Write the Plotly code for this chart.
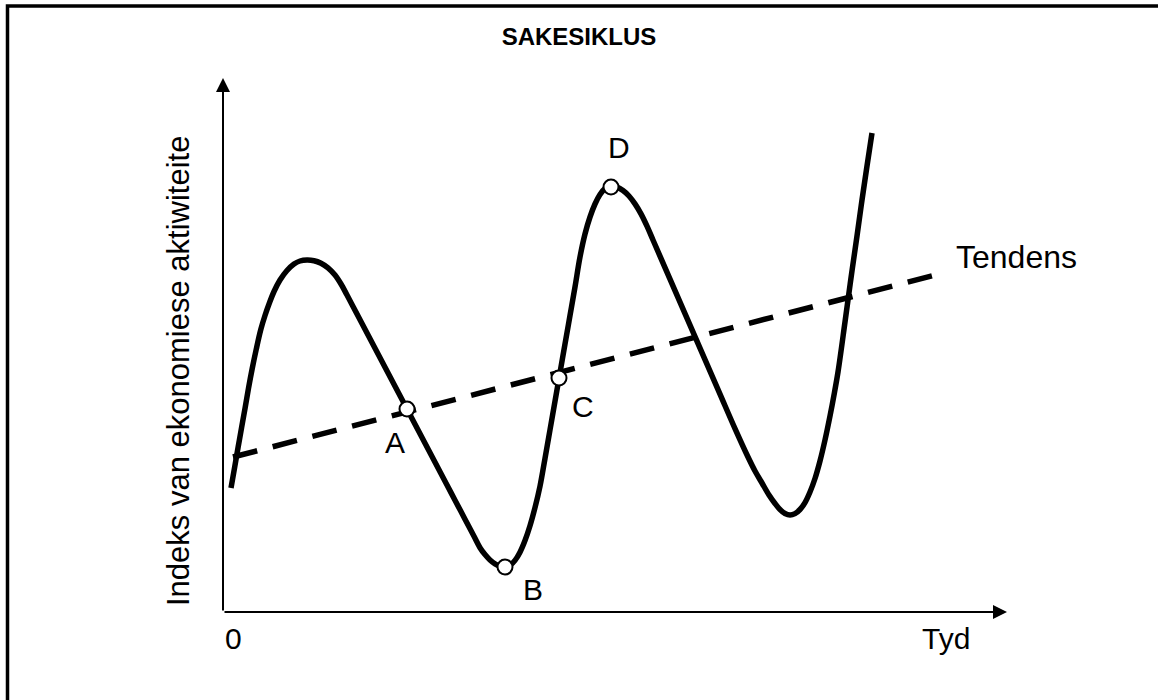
import plotly.graph_objects as go

# ---- data (arbitrary units; origin of the axes at 0,0; axis tips at x=784, y=534) ----
cycle_x = [8, 11.7, 15.1, 18.6, 22.1, 25.5, 29.2, 33.3, 37.8, 42, 46.3, 51, 57, 64, 71, 77,
           84, 91, 98, 105, 112, 118, 124, 134, 144, 154, 164, 174, 184, 194, 204, 214,
           224, 232, 242, 251, 257, 262, 267, 272, 277, 282, 287, 292, 297, 302, 307, 312,
           317, 322, 327, 332, 336, 342, 347, 352, 357, 362, 367, 372, 377, 382, 388, 394,
           400, 406, 412, 418, 424, 430, 437, 452, 467, 482, 497, 512, 525, 532, 539, 546,
           552, 557, 562, 567, 572, 577, 582, 587, 592, 597, 602, 607, 611, 615, 622, 628,
           634, 639, 644, 649]
cycle_y = [124, 145, 164.7, 184.4, 204.1, 223.8, 243.4, 263, 282.5, 296.5, 308.7, 320.5,
           332, 341.5, 348, 351, 352, 351.3, 348.8, 344.2, 337, 328, 317, 298, 279, 260,
           241, 222, 203, 184, 165, 146, 127, 111.8, 92.8, 75.7, 64.3, 57.4, 52, 48.1, 45.8,
           45, 46.6, 51.6, 59.8, 71.4, 86.2, 104.4, 125.8, 153.6, 182.1, 210.7, 233.6, 268,
           296.4, 325, 355, 378, 395, 408, 417.5, 423.5, 426, 424.9, 421.5, 416, 408.1,
           398.1, 385.8, 372, 355.9, 321.4, 286.9, 252.4, 217.9, 183.4, 155, 141, 129, 117,
           108.5, 102.5, 98.5, 97, 98.4, 102.5, 109.4, 120, 133.5, 151, 172, 196, 217, 240,
           290, 334, 376, 412, 446, 479]

trend_x = [10, 724]
trend_y = [155, 340]

point_labels = ["A", "B", "C", "D"]
point_x = [184, 282, 336, 388]
point_y = [203, 45, 234, 425]
label_shift_x = [-12, 28, 24, 8]
label_shift_y = [-33, -22, -28, 40]

axis_x_max = 784
axis_y_max = 534

title_text = "SAKESIKLUS"
y_label = "Indeks van ekonomiese aktiwiteite"
x_label = "Tyd"
origin_label = "0"
trend_label = "Tendens"

FONT = "Liberation Sans, Arial, sans-serif"

fig = go.Figure()

fig.add_trace(go.Scatter(x=trend_x, y=trend_y, mode="lines",
                         line=dict(color="black", width=5.5, dash="25px,16px"),
                         hoverinfo="skip", showlegend=False))
fig.add_trace(go.Scatter(x=cycle_x, y=cycle_y, mode="lines",
                         line=dict(color="black", width=5.5, shape="spline", smoothing=1.0),
                         hoverinfo="skip", showlegend=False))
fig.add_trace(go.Scatter(x=point_x, y=point_y, mode="markers",
                         marker=dict(size=15, color="white", line=dict(color="black", width=2)),
                         hoverinfo="skip", showlegend=False))

annotations = []
# axes with arrows
annotations.append(dict(x=0, y=axis_y_max, ax=0, ay=0, xref="x", yref="y", axref="x", ayref="y",
                        showarrow=True, arrowhead=2, arrowwidth=2, arrowsize=1.4,
                        arrowcolor="black", text=""))
annotations.append(dict(x=axis_x_max, y=0, ax=0, ay=0, xref="x", yref="y", axref="x", ayref="y",
                        showarrow=True, arrowhead=2, arrowwidth=2, arrowsize=1.4,
                        arrowcolor="black", text=""))
for lab, px, py, sx, sy in zip(point_labels, point_x, point_y, label_shift_x, label_shift_y):
    annotations.append(dict(x=px, y=py, xref="x", yref="y", text=lab, showarrow=False,
                            xshift=sx, yshift=sy, font=dict(family=FONT, size=30, color="black")))
annotations.append(dict(x=trend_x[-1] + 7, y=trend_y[-1] + 15, xref="x", yref="y", text=trend_label,
                        showarrow=False, xanchor="left", font=dict(family=FONT, size=32, color="black")))
annotations.append(dict(x=10, y=-26, xref="x", yref="y", text=origin_label, showarrow=False,
                        font=dict(family=FONT, size=30, color="black")))
annotations.append(dict(x=723, y=-26, xref="x", yref="y", text=x_label, showarrow=False,
                        font=dict(family=FONT, size=30, color="black")))
annotations.append(dict(x=-45, y=241, xref="x", yref="y", text=y_label, showarrow=False,
                        textangle=-90, font=dict(family=FONT, size=31, color="black")))

fig.update_layout(
    width=1158, height=700,
    margin=dict(l=0, r=0, t=0, b=0),
    paper_bgcolor="white", plot_bgcolor="white",
    title=dict(text="<b>" + title_text + "</b>", x=0.5, xanchor="center",
               y=1 - 37 / 700, yanchor="middle",
               font=dict(family=FONT, size=24, color="black")),
    xaxis=dict(range=[-223, 935], visible=False, fixedrange=True),
    yaxis=dict(range=[-88, 612], visible=False, fixedrange=True),
    annotations=annotations,
    shapes=[dict(type="rect", xref="paper", yref="paper",
                 x0=7.5 / 1158, y0=1 - 6 / 700, x1=1.2, y1=-0.2,
                 line=dict(color="black", width=3.5), layer="above")],
    showlegend=False,
)

fig.write_html("out.html", config={"displayModeBar": False},
               post_script="document.body.style.margin='0';")
